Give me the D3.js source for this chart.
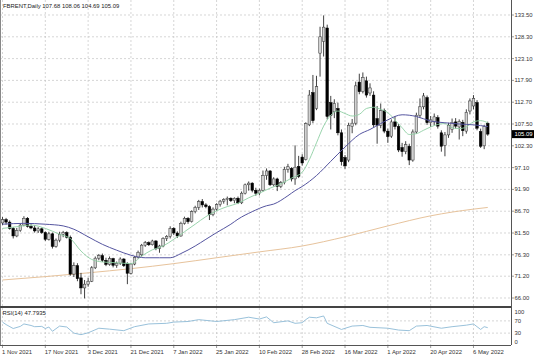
<!DOCTYPE html>
<html><head><meta charset="utf-8">
<script src="https://cdn.jsdelivr.net/npm/d3@7"></script>
<style>body{margin:0;background:#fff}svg{display:block}text{font-family:"Liberation Sans",Arial,sans-serif}</style>
</head><body><svg id="c" width="536" height="357"></svg>
<script>
const symbol = "FBRENT,Daily";
const lastQuote = ["107.68", "108.06", "104.69", "105.09"];
const dates = [
"2021-11-01","2021-11-02","2021-11-03","2021-11-04","2021-11-05","2021-11-08","2021-11-09","2021-11-10","2021-11-11","2021-11-12",
"2021-11-15","2021-11-16","2021-11-17","2021-11-18","2021-11-19","2021-11-22","2021-11-23","2021-11-24","2021-11-25","2021-11-26",
"2021-11-29","2021-11-30","2021-12-01","2021-12-02","2021-12-03","2021-12-06","2021-12-07","2021-12-08","2021-12-09","2021-12-10",
"2021-12-13","2021-12-14","2021-12-15","2021-12-16","2021-12-17","2021-12-20","2021-12-21","2021-12-22","2021-12-23","2021-12-27",
"2021-12-28","2021-12-29","2021-12-30","2021-12-31","2022-01-03","2022-01-04","2022-01-05","2022-01-06","2022-01-07","2022-01-10",
"2022-01-11","2022-01-12","2022-01-13","2022-01-14","2022-01-17","2022-01-18","2022-01-19","2022-01-20","2022-01-21","2022-01-24",
"2022-01-25","2022-01-26","2022-01-27","2022-01-28","2022-01-31","2022-02-01","2022-02-02","2022-02-03","2022-02-04","2022-02-07",
"2022-02-08","2022-02-09","2022-02-10","2022-02-11","2022-02-14","2022-02-15","2022-02-16","2022-02-17","2022-02-18","2022-02-21",
"2022-02-22","2022-02-23","2022-02-24","2022-02-25","2022-02-28","2022-03-01","2022-03-02","2022-03-03","2022-03-04","2022-03-07",
"2022-03-08","2022-03-09","2022-03-10","2022-03-11","2022-03-14","2022-03-15","2022-03-16","2022-03-17","2022-03-18","2022-03-21",
"2022-03-22","2022-03-23","2022-03-24","2022-03-25","2022-03-28","2022-03-29","2022-03-30","2022-03-31","2022-04-01","2022-04-04",
"2022-04-05","2022-04-06","2022-04-07","2022-04-08","2022-04-11","2022-04-12","2022-04-13","2022-04-14","2022-04-18","2022-04-19",
"2022-04-20","2022-04-21","2022-04-22","2022-04-25","2022-04-26","2022-04-27","2022-04-28","2022-04-29","2022-05-02","2022-05-03",
"2022-05-04","2022-05-05","2022-05-06","2022-05-09","2022-05-10","2022-05-11","2022-05-12"];
// [open, high, low, close]
const ohlc = [
[83.9,85.3,83.4,84.7],[84.7,85.1,83.5,84.1],[84.1,84.5,82.3,82.6],[82.6,82.9,80.2,80.8],[80.8,82.7,80.5,82.1],
[82.1,83.7,81.8,83.4],[83.4,85.5,83.1,85.0],[85.0,85.3,82.8,83.1],[83.1,83.6,82.4,82.7],[82.7,83.3,81.6,82.0],
[82.0,82.9,81.5,82.5],[82.5,82.8,81.3,81.6],[81.6,81.9,79.6,80.0],[80.0,81.8,79.7,81.3],[81.3,81.6,77.8,78.3],
[78.3,80.2,78.0,79.8],[79.8,81.8,79.3,81.2],[81.2,82.0,80.5,81.6],[81.6,81.9,80.2,80.5],[80.5,80.9,71.3,71.7],
[71.7,74.5,71.0,73.7],[73.7,74.3,70.0,70.6],[70.8,72.0,66.9,68.4],[68.4,70.3,65.9,69.3],[69.3,70.8,68.7,70.0],
[70.0,73.6,69.8,73.2],[73.2,75.9,72.9,75.5],[75.5,76.5,75.0,76.1],[76.1,76.6,74.6,75.0],[75.0,75.6,73.6,74.0],
[74.0,75.9,73.7,75.4],[75.4,75.6,73.3,73.8],[73.8,74.7,73.2,74.3],[74.3,75.7,73.9,75.3],[75.3,75.5,73.4,73.7],
[74.3,74.5,69.3,71.9],[71.9,74.4,71.6,74.1],[74.1,76.0,73.8,75.7],[75.7,77.3,75.4,76.9],[76.3,78.9,75.9,78.6],
[78.6,79.6,78.2,79.2],[79.2,79.5,78.4,78.7],[78.7,79.9,78.5,79.6],[79.6,79.8,77.4,77.8],[77.8,78.7,76.8,78.4],
[78.4,80.5,78.1,80.2],[80.2,81.0,79.6,80.7],[80.7,83.1,80.2,82.6],[82.6,82.9,81.0,81.5],[81.5,81.9,80.3,80.8],
[80.8,84.2,80.6,83.8],[83.8,85.4,83.5,85.0],[85.0,85.3,83.7,84.2],[84.2,86.9,84.0,86.6],[86.6,88.0,86.2,87.6],
[87.6,89.4,87.0,89.0],[89.0,89.6,87.6,88.2],[88.2,88.6,87.4,87.8],[87.8,88.1,84.6,85.9],[85.9,87.6,85.5,87.2],
[87.2,88.6,86.8,88.3],[88.3,89.4,87.8,89.1],[89.1,89.8,88.5,89.5],[89.5,90.2,88.1,89.8],[89.8,90.0,88.9,89.2],
[89.2,90.0,88.6,89.8],[89.8,90.2,88.4,88.7],[88.7,91.4,88.4,91.0],[91.0,93.3,90.7,93.0],[93.0,93.8,91.6,93.4],
[93.4,93.6,91.2,91.7],[91.7,92.3,90.4,91.0],[91.0,92.1,90.5,91.7],[91.7,96.4,91.4,95.2],[95.2,96.9,94.2,96.3],
[96.3,96.5,92.7,93.0],[93.0,94.8,92.6,94.4],[94.4,94.7,91.5,92.6],[92.6,93.9,92.2,93.5],[93.5,97.3,93.1,96.7],
[96.7,98.0,95.9,97.3],[96.9,97.2,93.8,94.4],[94.4,102.4,93.0,97.2],[97.4,99.9,94.6,95.0],[99.6,100.3,97.6,98.2],
[99.0,107.9,98.8,107.6],[107.3,115.6,107.0,114.4],[115.0,119.2,107.7,108.3],[111.2,119.0,110.8,116.4],[124.4,130.7,118.8,128.3],
[127.2,133.4,123.6,130.6],[130.4,131.2,108.6,109.3],[112.6,114.2,106.2,109.6],[110.4,113.4,108.9,112.4],[111.2,112.6,104.8,105.4],
[105.4,106.2,97.6,98.5],[99.5,100.1,96.8,97.5],[98.9,107.8,98.4,107.2],[106.9,108.7,105.3,107.7],[107.7,117.6,107.2,116.6],
[117.5,119.5,114.6,115.2],[115.2,119.8,114.8,118.6],[117.8,118.8,113.8,114.4],[114.9,117.2,114.2,116.1],[114.4,115.3,106.8,107.3],
[108.8,111.8,102.8,107.2],[107.2,112.4,106.5,110.7],[110.7,111.2,105.3,105.8],[105.8,106.4,103.0,104.5],[104.6,108.6,104.2,108.0],
[108.0,109.4,106.2,106.9],[106.9,107.5,100.8,101.3],[101.9,103.0,99.7,100.9],[100.9,103.4,100.3,102.6],[102.2,102.8,97.7,98.9],
[98.9,106.2,98.5,105.6],[105.6,110.2,105.2,109.6],[109.6,113.6,109.0,111.6],[111.6,114.9,111.0,114.2],[113.8,114.3,107.3,107.8],
[107.8,109.4,106.8,108.5],[108.0,110.0,107.2,109.2],[109.0,109.6,106.4,107.0],[105.4,106.0,100.9,102.2],[102.4,105.6,99.8,104.9],
[104.9,107.8,104.2,107.2],[106.2,108.8,105.4,107.9],[108.0,108.9,106.4,107.0],[106.8,108.6,103.8,108.1],[107.9,108.5,104.6,105.9],
[105.8,111.0,105.2,110.3],[110.6,113.6,109.8,113.0],[111.8,114.4,111.0,113.6],[112.6,113.2,106.0,106.5],[105.7,106.4,101.8,102.2],
[102.3,107.3,101.5,106.9],[107.68,108.06,104.69,105.09]];
// moving averages: [bar index, value]
const maFast = [[0,82.6],[4,83.0],[8,83.4],[12,82.6],[16,81.2],[19,80.2],[22,77.2],[25,75.2],[28,74.6],[32,74.4],[36,74.2],
[39,76.0],[42,77.5],[45,78.4],[48,80.0],[51,81.8],[54,83.6],[57,85.4],[60,86.8],[63,87.8],[66,88.6],[69,89.9],[72,91.0],
[75,92.2],[78,93.2],[81,94.6],[84,96.0],[86,99.0],[88,103.0],[90,107.0],[92,109.6],[94,110.6],[96,110.0],[98,109.4],
[100,109.8],[102,111.2],[104,111.5],[106,111.0],[108,110.2],[110,108.5],[112,106.6],[114,105.0],[116,105.2],[118,106.0],
[120,106.8],[122,107.4],[124,107.6],[126,106.6],[128,106.4],[130,106.8],[132,108.0],[134,108.3],[136,107.8]];
const maSlow = [[0,83.6],[6,83.8],[12,83.6],[17,83.2],[20,82.4],[24,80.6],[28,78.8],[32,77.4],[36,76.2],[40,75.6],[44,75.6],
[47,75.6],[50,76.6],[54,78.4],[57,80.0],[60,81.6],[64,83.6],[66,84.8],[70,86.6],[74,88.0],[76,88.4],[80,90.4],[82,91.6],
[84,92.6],[88,95.2],[92,98.6],[96,102.0],[100,105.0],[103,106.2],[106,107.6],[108,108.5],[112,109.7],[116,109.3],[120,108.2],
[124,107.8],[128,107.5],[132,107.3],[136,106.9]];
const maLong = [[0,70.3],[12,71.1],[24,72.0],[36,73.0],[48,74.2],[60,75.6],[72,77.0],[84,78.4],[96,80.6],[108,83.2],[120,85.6],[132,87.2],[136,87.6]];
const rsiName = "RSI(14)";
const rsiLast = "47.7935";
const rsi = [[0,66],[1,58],[3,45],[5,52],[6,60],[8,55],[9,51],[11,52],[12,45],[13,50],[14,36],[16,53],[18,50],[20,30],[22,25],[24,31],[27,46],[30,43],[34,38],
[37,51],[41,60],[46,62],[48,66],[52,68],[55,74],[60,68],[65,74],[69,82],[72,76],[74,83],[76,64],[80,70],[82,62],[84,64],
[85,74],[86,82],[88,80],[90,86],[91,62],[95,42],[98,53],[101,55],[103,49],[108,46],[111,40],[114,38],[116,53],[119,55],
[123,46],[126,51],[130,56],[132,60],[134,42],[135,51],[136,47.79]];
const priceTicks = ["133.50","128.30","123.10","117.90","112.70","107.50","102.30","97.10","91.90","86.70","81.50","76.30","71.20","66.00"];
const rsiTicks = [100,70,30,0];
const rsiLevels = [70,30];
const dateTicks = ["2021-11-01","2021-11-17","2021-12-03","2021-12-21","2022-01-07","2022-01-25","2022-02-10","2022-02-28","2022-03-16","2022-04-01","2022-04-20","2022-05-06"];

const svg = d3.select("#c");
const R = 511, mainBottom = 306, subTop = 308, subBottom = 345;
const x = d3.scalePoint().domain(dates).range([2.5, 2.5 + 3.568 * (dates.length - 1)]);
const y = d3.scaleLinear().domain([66, 133.5]).range([298, 15]);
const yr = d3.scaleLinear().domain([0, 100]).range([342.3, 311.7]);
const fmt = d3.timeFormat("%-d %b %Y"), parse = d3.timeParse("%Y-%m-%d");
const FS = 5.9, TXT = "#333";

svg.append("rect").attr("width",536).attr("height",357).attr("fill","#fff");
const grid = svg.append("g").attr("stroke","#c4c4c4").attr("stroke-width",0.7).attr("stroke-dasharray","2,2");
priceTicks.forEach(t => grid.append("line").attr("x1",0).attr("x2",R).attr("y1",y(+t)).attr("y2",y(+t)));
dateTicks.forEach(d => {
  grid.append("line").attr("x1",x(d)).attr("x2",x(d)).attr("y1",0).attr("y2",mainBottom);
  grid.append("line").attr("x1",x(d)).attr("x2",x(d)).attr("y1",subTop).attr("y2",subBottom);
});
rsiLevels.forEach(v => grid.append("line").attr("x1",0).attr("x2",R).attr("y1",yr(v)).attr("y2",yr(v)));

const line = pts => d3.line().x(p => x(dates[p[0]])).y(p => y(p[1])).curve(d3.curveMonotoneX)(pts);
svg.append("path").attr("d",line(maLong)).attr("fill","none").attr("stroke","#e7c39c").attr("stroke-width",1);

const cg = svg.append("g");
ohlc.forEach((b,i) => {
  const [o,h,l,c] = b, cx = x(dates[i]), up = c >= o;
  cg.append("line").attr("x1",cx).attr("x2",cx).attr("y1",y(h)).attr("y2",y(l)).attr("stroke","#111").attr("stroke-width",0.8);
  const top = y(Math.max(o,c)), bh = Math.max(0.8, Math.abs(y(o)-y(c)));
  cg.append("rect").attr("x",cx-1.3).attr("y",top).attr("width",2.6).attr("height",bh)
    .attr("fill", up ? "#d2d2d2" : "#000").attr("stroke", up ? "#333" : "#000").attr("stroke-width",0.5);
});
svg.append("path").attr("d",line(maFast)).attr("fill","none").attr("stroke","#8fcfa4").attr("stroke-width",0.9);
svg.append("path").attr("d",line(maSlow)).attr("fill","none").attr("stroke","#5555a0").attr("stroke-width",1);

// RSI
const rline = d3.line().x(p => x(dates[p[0]])).y(p => yr(p[1]));
svg.append("path").attr("d",rline(rsi)).attr("fill","none").attr("stroke","#8dbad6").attr("stroke-width",0.9);

// frame
const fr = svg.append("g").attr("stroke","#555");
fr.append("line").attr("x1",0.5).attr("x2",0.5).attr("y1",0).attr("y2",subBottom).attr("stroke-width",1).attr("stroke","#888");
fr.append("line").attr("x1",R+0.5).attr("x2",R+0.5).attr("y1",0).attr("y2",subBottom).attr("stroke-width",1);
fr.append("line").attr("x1",0).attr("x2",R).attr("y1",307).attr("y2",307).attr("stroke-width",2).attr("stroke","#444");
fr.append("line").attr("x1",0).attr("x2",R).attr("y1",subBottom+0.5).attr("y2",subBottom+0.5).attr("stroke-width",1);

// right axis labels
const ax = svg.append("g").attr("font-size",FS).attr("fill",TXT);
priceTicks.forEach(t => {
  svg.append("line").attr("x1",R).attr("x2",R+3).attr("y1",y(+t)).attr("y2",y(+t)).attr("stroke","#555").attr("stroke-width",0.6);
  ax.append("text").attr("x",R+3.5).attr("y",y(+t)).attr("dy","0.35em").text(t);
});
rsiTicks.forEach(v => ax.append("text").attr("x",R+3.5).attr("y",yr(v)).attr("dy","0.35em").text(v));
dateTicks.forEach(d => {
  svg.append("line").attr("x1",x(d)).attr("x2",x(d)).attr("y1",subBottom).attr("y2",subBottom+3).attr("stroke","#555").attr("stroke-width",0.6);
  ax.append("text").attr("x",x(d) - 0.5).attr("y",353.5).text(fmt(parse(d)));
});
// current price box
const lastC = +lastQuote[3];
svg.append("rect").attr("x",R+1).attr("y",y(lastC)-4).attr("width",22).attr("height",8).attr("fill","#000");
svg.append("text").attr("x",R+3.5).attr("y",y(lastC)).attr("dy","0.35em").attr("font-size",FS).attr("fill","#fff").text(lastQuote[3]);

// headers
svg.append("text").attr("x",3).attr("y",8).attr("font-size",FS).attr("fill","#222").text(symbol + "  " + lastQuote.join(" "));
svg.append("text").attr("x",2.5).attr("y",315).attr("font-size",FS).attr("fill","#222").text(rsiName + " " + rsiLast);
</script></body></html>
